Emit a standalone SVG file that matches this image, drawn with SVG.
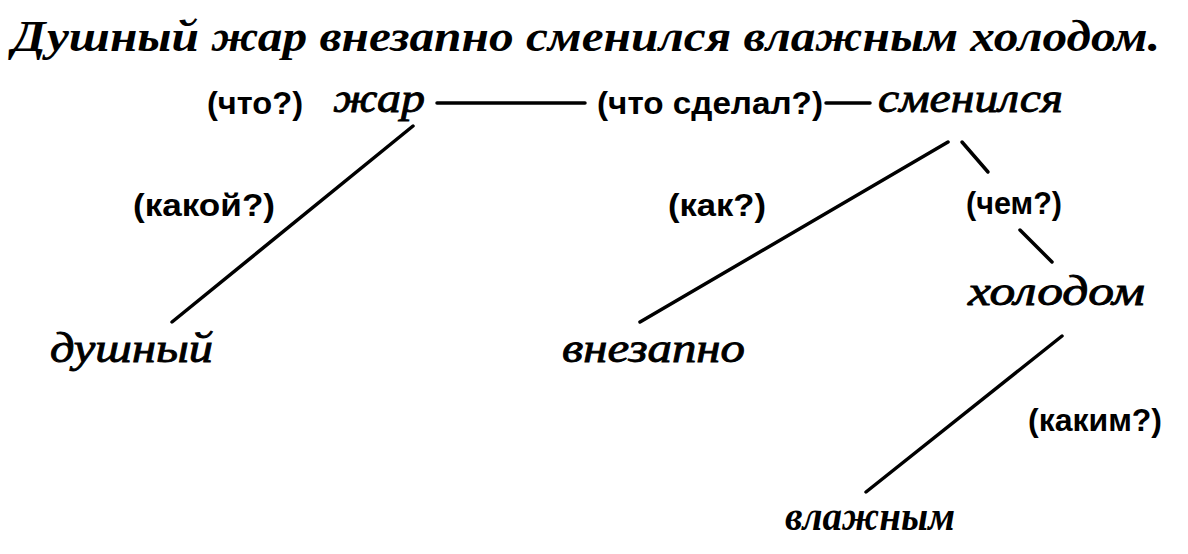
<svg xmlns="http://www.w3.org/2000/svg" width="1188" height="554" viewBox="0 0 1188 554">
<style>
.title{font-family:"Liberation Serif","DejaVu Serif",serif;font-style:italic;font-weight:bold;font-size:45px;fill:#000}
.w{font-family:"Liberation Serif","DejaVu Serif",serif;font-style:italic;font-size:42px;fill:#000;stroke:#000;stroke-width:0.9}
.wb{font-family:"Liberation Serif","DejaVu Serif",serif;font-style:italic;font-weight:bold;font-size:42px;fill:#000}
.q{font-family:"Liberation Sans","DejaVu Sans",sans-serif;font-weight:bold;font-size:32px;fill:#000}
.c{stroke:#000;stroke-width:3.5;stroke-linecap:round;fill:none}
</style>
<rect width="1188" height="554" fill="#fff"/>
<g id="title"><text class="title" x="12" y="51" textLength="1148" lengthAdjust="spacingAndGlyphs">Душный жар внезапно сменился влажным холодом.</text></g>
<g id="connectors">
<line class="c" x1="437" y1="103" x2="585" y2="103"/>
<line class="c" x1="826" y1="103" x2="870" y2="103"/>
<line class="c" x1="413" y1="126" x2="172" y2="322"/>
<line class="c" x1="948" y1="142" x2="640" y2="322"/>
<line class="c" x1="962" y1="142" x2="988" y2="172"/>
<line class="c" x1="1020" y1="230" x2="1052" y2="262"/>
<line class="c" x1="1062" y1="336" x2="866" y2="492"/>
</g>
<g id="q-chto"><text class="q" x="207" y="114" textLength="96" lengthAdjust="spacingAndGlyphs">(что?)</text></g>
<g id="zhar"><text class="w" x="333" y="112" textLength="92" lengthAdjust="spacingAndGlyphs">жар</text></g>
<g id="q-chto-sdelal"><text class="q" x="597" y="114" textLength="226" lengthAdjust="spacingAndGlyphs">(что сделал?)</text></g>
<g id="smenilsya"><text class="w" x="878" y="112" textLength="185" lengthAdjust="spacingAndGlyphs">сменился</text></g>
<g id="q-kakoy"><text class="q" x="133" y="216" textLength="142" lengthAdjust="spacingAndGlyphs">(какой?)</text></g>
<g id="dushny"><text class="w" x="50" y="362" textLength="163" lengthAdjust="spacingAndGlyphs">душный</text></g>
<g id="q-kak"><text class="q" x="668" y="216" textLength="98" lengthAdjust="spacingAndGlyphs">(как?)</text></g>
<g id="vnezapno"><text class="w" x="562" y="362" textLength="183" lengthAdjust="spacingAndGlyphs">внезапно</text></g>
<g id="q-chem"><text class="q" x="966" y="214" textLength="96" lengthAdjust="spacingAndGlyphs">(чем?)</text></g>
<g id="holodom"><text class="w" x="968" y="305" textLength="177" lengthAdjust="spacingAndGlyphs">холодом</text></g>
<g id="q-kakim"><text class="q" x="1028" y="431" textLength="134" lengthAdjust="spacingAndGlyphs">(каким?)</text></g>
<g id="vlazhnym"><text class="wb" x="785" y="530" textLength="170" lengthAdjust="spacingAndGlyphs">влажным</text></g>
</svg>
